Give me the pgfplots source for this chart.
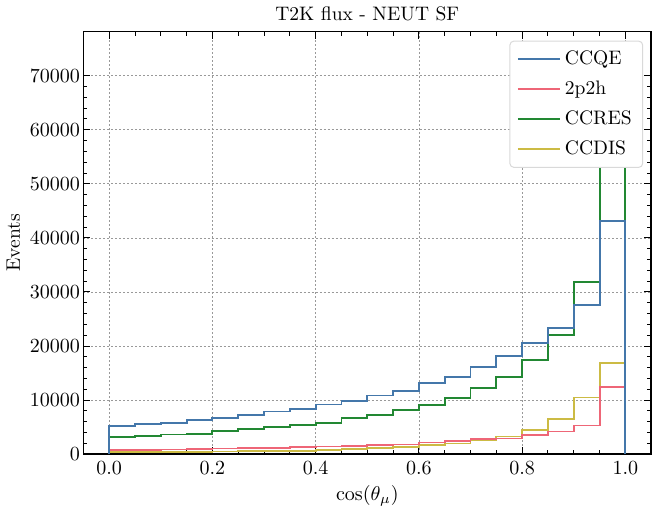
\documentclass[border=0pt]{standalone}
\usepackage{pgfplots}
\pgfplotsset{compat=1.18}
\definecolor{tolblue}{HTML}{4477AA}
\definecolor{tolred}{HTML}{EE6677}
\definecolor{tolgreen}{HTML}{228833}
\definecolor{tolyellow}{HTML}{CCBB44}
\begin{document}
\fontsize{9.75}{11.7}\selectfont
\begin{tikzpicture}
\begin{axis}[
  width=283.5pt, height=211pt, scale only axis,
  xmin=-0.05, xmax=1.05, ymin=0, ymax=78150,
  xtick={0,0.2,0.4,0.6,0.8,1.0},
  xticklabels={$0.0$,$0.2$,$0.4$,$0.6$,$0.8$,$1.0$},
  ytick={0,10000,20000,30000,40000,50000,60000,70000},
  yticklabel style={/pgf/number format/.cd, fixed, set thousands separator={}, /tikz/.cd, inner xsep=1.5pt},
  scaled y ticks=false,
  minor x tick num=3, minor y tick num=4,
  tick align=inside,
  major tick length=3.5pt, minor tick length=2pt,
  axis line style={line width=0.8pt},
  every tick/.style={black, line width=0.5pt},
  grid=major,
  major grid style={gray!80, line width=0.4pt, dash pattern=on 1pt off 1pt},
  title={T2K flux - NEUT SF},
  title style={yshift=-4pt},
  xlabel={$\cos(\theta_\mu)$},
  xlabel style={yshift=1pt},
  ylabel={Events},
  reverse legend,
  legend cell align=left,
  legend style={at={(1,1)}, anchor=north east, xshift=-4pt, yshift=-4.5pt,
    draw=black!15, rounded corners=2pt, fill=white, line width=0.5pt,
    inner xsep=3.5pt, inner ysep=3pt, row sep=2.6pt,
    /tikz/every even column/.append style={column sep=5.5pt}},
  legend image code/.code={\draw[#1, line width=1pt] (0pt,0pt) -- (21pt,0pt);},
  every axis plot/.append style={line width=0.95pt, const plot mark left, mark=none},
]
\addplot[tolyellow] coordinates {
(0,0) (0,400) (0.05,420) (0.1,450) (0.15,480) (0.2,510) (0.25,550) (0.3,590) (0.35,630) (0.4,700) (0.45,900)
(0.5,1170) (0.55,1350) (0.6,1670) (0.65,1980) (0.7,2530) (0.75,3270) (0.8,4510) (0.85,6480) (0.9,10490) (0.95,16790) (1.0,16790) (1.0,0)};
\addlegendentry{CCDIS}
\addplot[tolgreen] coordinates {
(0,0) (0,3100) (0.05,3400) (0.1,3650) (0.15,3800) (0.2,4250) (0.25,4700) (0.3,5000) (0.35,5400) (0.4,5800) (0.45,6700)
(0.5,7300) (0.55,8150) (0.6,9140) (0.65,10430) (0.7,12220) (0.75,14320) (0.8,17350) (0.85,22100) (0.9,31900) (0.95,74500) (1.0,74500) (1.0,0)};
\addlegendentry{CCRES}
\addplot[tolred] coordinates {
(0,0) (0,800) (0.05,800) (0.1,870) (0.15,990) (0.2,1050) (0.25,1110) (0.3,1170) (0.35,1360) (0.4,1420) (0.45,1600)
(0.5,1700) (0.55,1790) (0.6,2160) (0.65,2400) (0.7,2780) (0.75,2900) (0.8,3520) (0.85,4200) (0.9,5310) (0.95,12350) (1.0,12350) (1.0,0)};
\addlegendentry{2p2h}
\addplot[tolblue] coordinates {
(0,0) (0,5300) (0.05,5550) (0.1,5800) (0.15,6300) (0.2,6700) (0.25,7200) (0.3,7900) (0.35,8400) (0.4,9200) (0.45,9900)
(0.5,10850) (0.55,11730) (0.6,13150) (0.65,14320) (0.7,16170) (0.75,18210) (0.8,20620) (0.85,23330) (0.9,27650) (0.95,43100) (1.0,43100) (1.0,0)};
\addlegendentry{CCQE}
\end{axis}
\end{tikzpicture}
\end{document}
